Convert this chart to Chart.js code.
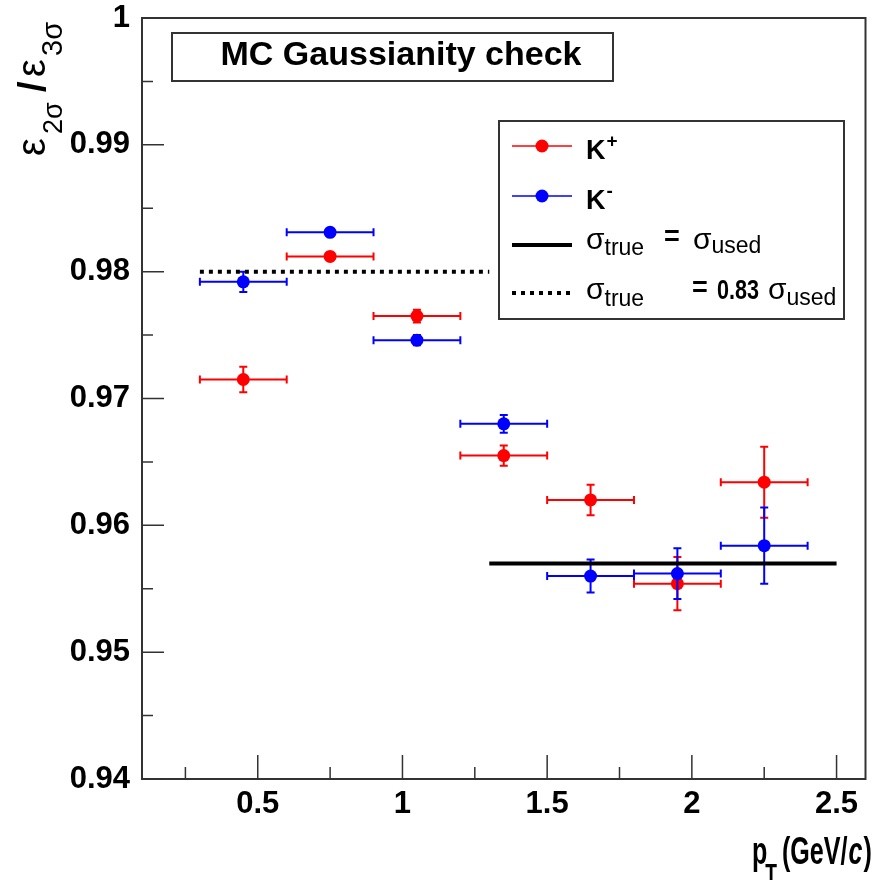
<!DOCTYPE html>
<html><head><meta charset="utf-8">
<script src="https://cdn.jsdelivr.net/npm/chart.js@4.4.1/dist/chart.umd.min.js"></script>
<style>html,body{margin:0;padding:0;background:#fff;}#wrap{width:872px;height:880px;}</style>
</head><body><div id="wrap"><canvas id="c" width="872" height="880"></canvas></div>
<script>
// ---- data ----
const ptBins       = [0.45, 0.75, 1.05, 1.35, 1.65, 1.95, 2.25];
const ptHalfWidth  = [0.15, 0.15, 0.15, 0.15, 0.15, 0.15, 0.15];
const kPlusRatio   = [0.9715, 0.9812, 0.9765, 0.9655, 0.9620, 0.9554, 0.9634];
const kPlusErr     = [0.0010, 0.0003, 0.0005, 0.0008, 0.0012, 0.0021, 0.0028];
const kMinusRatio  = [0.9792, 0.9831, 0.9746, 0.9680, 0.9560, 0.9562, 0.9584];
const kMinusErr    = [0.0008, 0.0003, 0.0004, 0.0007, 0.0013, 0.0020, 0.0030];
const sigmaEqualX  = [1.3, 2.5];
const sigmaEqualY  = [0.957, 0.957];
const sigma083X    = [0.3, 1.3];
const sigma083Y    = [0.98, 0.98];
const xTickValues  = [0.5, 1, 1.5, 2, 2.5];
const xTickLabels  = ['0.5', '1', '1.5', '2', '2.5'];
const xMinorTicks  = [0.25, 0.75, 1.25, 1.75, 2.25];
const yTickValues  = [0.94, 0.95, 0.96, 0.97, 0.98, 0.99, 1.0];
const yTickLabels  = ['0.94', '0.95', '0.96', '0.97', '0.98', '0.99', '1'];
const yMinorTicks  = [0.945, 0.955, 0.965, 0.975, 0.985, 0.995];
const titleText    = 'MC Gaussianity check';
const seriesNames  = ['K', 'K'];
const seriesSup    = ['+', '-'];

const F = '"Liberation Sans", Arial, sans-serif';

function pts(xs, ys) { return xs.map((x, i) => ({ x: x, y: ys[i] })); }

function drawRun(ctx, x, y, parts) {
  let cx = x;
  for (const p of parts) {
    ctx.font = p.font;
    if (p.at !== undefined) cx = p.at;
    cx += (p.gap || 0);
    const sx = p.sx || 1;
    ctx.save();
    ctx.translate(cx, y + (p.dy || 0));
    ctx.scale(sx, 1);
    ctx.fillText(p.text, 0, 0);
    ctx.restore();
    cx += ctx.measureText(p.text).width * sx;
  }
  return cx;
}

const errorBars = {
  id: 'errorBars',
  beforeDatasetDraw(chart, args) {
    const ds = chart.data.datasets[args.index];
    if (!ds.yErr) return;
    const xs = chart.scales.x, ys = chart.scales.y, ctx = chart.ctx;
    ctx.save();
    ctx.strokeStyle = ds.backgroundColor;
    ctx.lineWidth = 2;
    const cap = 4;
    ds.data.forEach((p, i) => {
      const px = xs.getPixelForValue(p.x), py = ys.getPixelForValue(p.y);
      const x1 = xs.getPixelForValue(p.x - ds.xErr[i]), x2 = xs.getPixelForValue(p.x + ds.xErr[i]);
      const y1 = ys.getPixelForValue(p.y - ds.yErr[i]), y2 = ys.getPixelForValue(p.y + ds.yErr[i]);
      ctx.beginPath();
      ctx.moveTo(x1, py); ctx.lineTo(x2, py);
      ctx.moveTo(x1, py - cap); ctx.lineTo(x1, py + cap);
      ctx.moveTo(x2, py - cap); ctx.lineTo(x2, py + cap);
      ctx.moveTo(px, y1); ctx.lineTo(px, y2);
      ctx.moveTo(px - cap, y1); ctx.lineTo(px + cap, y1);
      ctx.moveTo(px - cap, y2); ctx.lineTo(px + cap, y2);
      ctx.stroke();
    });
    ctx.restore();
  }
};

const decorations = {
  id: 'decorations',
  afterDraw(chart) {
    const ctx = chart.ctx, a = chart.chartArea, xs = chart.scales.x, ys = chart.scales.y;
    ctx.save();
    ctx.textAlign = 'left'; ctx.textBaseline = 'alphabetic';
    // frame
    ctx.strokeStyle = '#333'; ctx.lineWidth = 2;
    ctx.strokeRect(a.left, a.top, a.right - a.left, a.bottom - a.top);
    // ticks (inside)
    ctx.lineWidth = 1.5;
    ctx.beginPath();
    yTickValues.forEach(v => { const y = ys.getPixelForValue(v); ctx.moveTo(a.left, y); ctx.lineTo(a.left + 22, y); });
    yMinorTicks.forEach(v => { const y = ys.getPixelForValue(v); ctx.moveTo(a.left, y); ctx.lineTo(a.left + 11, y); });
    xTickValues.forEach(v => { const x = xs.getPixelForValue(v); ctx.moveTo(x, a.bottom); ctx.lineTo(x, a.bottom - 24); });
    xMinorTicks.forEach(v => { const x = xs.getPixelForValue(v); ctx.moveTo(x, a.bottom); ctx.lineTo(x, a.bottom - 12); });
    ctx.stroke();

    // title box
    ctx.lineWidth = 2; ctx.strokeStyle = '#333';
    ctx.fillStyle = '#fff';
    ctx.fillRect(172, 33, 441, 48);
    ctx.strokeRect(172, 33, 441, 48);
    ctx.fillStyle = '#000';
    ctx.font = `bold 34px ${F}`;
    ctx.textAlign = 'center';
    ctx.fillText(titleText, 401, 65);
    ctx.textAlign = 'left';

    // legend box
    ctx.fillStyle = '#fff';
    ctx.fillRect(499, 121, 345, 198);
    ctx.strokeRect(499, 121, 345, 198);
    const rows = [146, 196, 245, 293];
    const cols = ['#ff0000', '#0000ff'];
    for (let i = 0; i < 2; i++) {
      ctx.strokeStyle = cols[i]; ctx.lineWidth = 1.5;
      ctx.beginPath(); ctx.moveTo(512, rows[i]); ctx.lineTo(572, rows[i]); ctx.stroke();
      ctx.fillStyle = cols[i];
      ctx.beginPath(); ctx.arc(542, rows[i], 6.5, 0, Math.PI * 2); ctx.fill();
      ctx.fillStyle = '#000';
      drawRun(ctx, 586, rows[i] + 13, [
        { text: seriesNames[i], font: `bold 27px ${F}` },
        { text: seriesSup[i], font: `bold 19px ${F}`, dy: -12, gap: 1 }
      ]);
    }
    ctx.strokeStyle = '#000'; ctx.lineWidth = 4;
    ctx.beginPath(); ctx.moveTo(512, rows[2]); ctx.lineTo(572, rows[2]); ctx.stroke();
    ctx.setLineDash([4, 5]);
    ctx.beginPath(); ctx.moveTo(512, rows[3]); ctx.lineTo(572, rows[3]); ctx.stroke();
    ctx.setLineDash([]);
    ctx.fillStyle = '#000';
    drawRun(ctx, 586, 249, [
      { text: 'σ', font: `30px ${F}` },
      { text: 'true', font: `23px ${F}`, dy: 6, gap: 0 },
      { text: '=', font: `bold 27px ${F}`, at: 664, dy: -4 },
      { text: 'σ', font: `30px ${F}`, at: 693 },
      { text: 'used', font: `23px ${F}`, dy: 4 }
    ]);
    drawRun(ctx, 586, 299, [
      { text: 'σ', font: `30px ${F}` },
      { text: 'true', font: `23px ${F}`, dy: 7, gap: 0 },
      { text: '=', font: `bold 27px ${F}`, at: 692, dy: -3 },
      { text: '0.83', font: `bold 27px ${F}`, at: 717, sx: 0.8 },
      { text: 'σ', font: `30px ${F}`, at: 768 },
      { text: 'used', font: `23px ${F}`, dy: 6 }
    ]);

    // x axis title
    drawRun(ctx, 752, 864, [
      { text: 'p', font: `bold 38px ${F}`, sx: 0.66 },
      { text: 'T', font: `bold 29px ${F}`, sx: 0.66, dy: 20, gap: -2 },
      { text: '(GeV/', font: `bold 38px ${F}`, sx: 0.66, at: 782 },
      { text: 'c', font: `italic bold 38px ${F}`, sx: 0.66, gap: 1 },
      { text: ')', font: `bold 38px ${F}`, sx: 0.66, gap: 1 }
    ]);

    // y axis title (rotated)
    ctx.save();
    ctx.translate(45, 156);
    ctx.rotate(-Math.PI / 2);
    drawRun(ctx, 0, 0, [
      { text: 'ε', font: `40px ${F}` },
      { text: '2σ', font: `27px ${F}`, dy: 17, at: 22 },
      { text: '/', font: `bold 38px ${F}`, at: 64 },
      { text: 'ε', font: `40px ${F}`, at: 79 },
      { text: '3σ', font: `29px ${F}`, dy: 17, at: 100 }
    ]);
    ctx.restore();
    ctx.restore();
  }
};

new Chart(document.getElementById('c'), {
  type: 'scatter',
  data: {
    datasets: [
      { label: 'sigma_true = sigma_used', data: pts(sigmaEqualX, sigmaEqualY), showLine: true,
        borderColor: '#000', borderWidth: 4, pointRadius: 0, fill: false },
      { label: 'sigma_true = 0.83 sigma_used', data: pts(sigma083X, sigma083Y), showLine: true,
        borderColor: '#000', borderWidth: 4, borderDash: [4, 5], pointRadius: 0, fill: false },
      { label: 'K-', data: pts(ptBins, kMinusRatio), xErr: ptHalfWidth, yErr: kMinusErr,
        backgroundColor: '#0000ff', borderColor: '#0000ff', borderWidth: 0, pointRadius: 6.5 },
      { label: 'K+', data: pts(ptBins, kPlusRatio), xErr: ptHalfWidth, yErr: kPlusErr,
        backgroundColor: '#ff0000', borderColor: '#ff0000', borderWidth: 0, pointRadius: 6.5 }
    ]
  },
  options: {
    responsive: false, animation: false, devicePixelRatio: 1,
    layout: { padding: { top: 18, right: 6, left: 0, bottom: 0 } },
    plugins: { legend: { display: false }, tooltip: { enabled: false }, title: { display: false } },
    scales: {
      x: {
        type: 'linear', min: 0.1, max: 2.6,
        afterBuildTicks: s => { s.ticks = xTickValues.map(v => ({ value: v })); },
        afterFit: s => { s.height = 101; s.paddingLeft = 0; s.paddingRight = 0; },
        ticks: { callback: (v, i) => xTickLabels[i], font: { family: F, size: 31, weight: 'bold' },
                 color: '#000', padding: 7, maxRotation: 0, autoSkip: false },
        grid: { display: false, drawTicks: false }, border: { display: false }
      },
      y: {
        type: 'linear', min: 0.94, max: 1.0,
        afterBuildTicks: s => { s.ticks = yTickValues.map(v => ({ value: v })); },
        afterFit: s => { s.width = 142; s.paddingTop = 0; s.paddingBottom = 0; },
        ticks: { callback: (v, i) => yTickLabels[i], font: { family: F, size: 31, weight: 'bold' },
                 color: '#000', padding: 12, autoSkip: false },
        grid: { display: false, drawTicks: false }, border: { display: false }
      }
    }
  },
  plugins: [errorBars, decorations]
});
</script></body></html>
